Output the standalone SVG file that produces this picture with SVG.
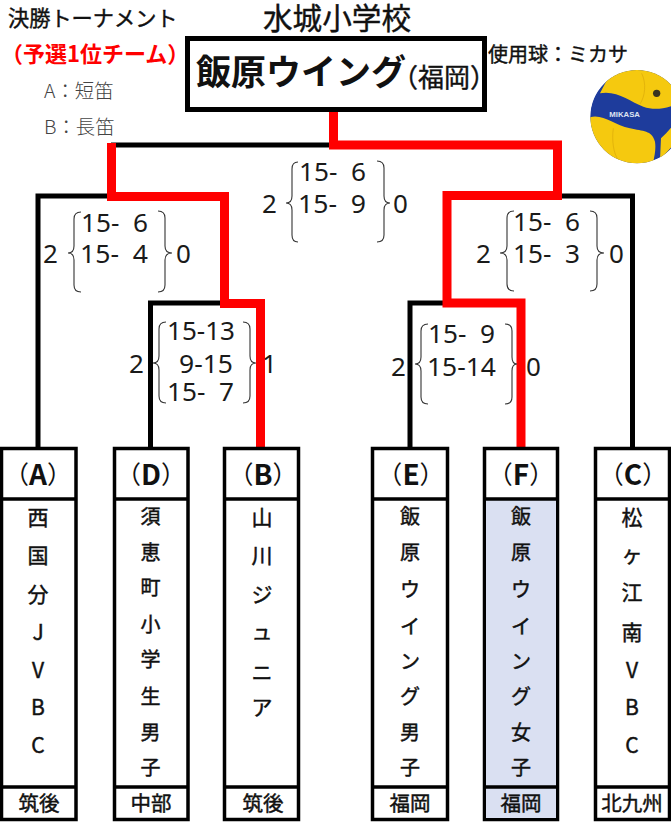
<svg xmlns="http://www.w3.org/2000/svg" width="671" height="822" viewBox="0 0 671 822">
<style>
text{font-family:"Noto Sans CJK JP","Noto Sans",sans-serif;fill:#111}
.j{font-size:21px;text-anchor:middle;dominant-baseline:central;stroke:#111;stroke-width:.45;transform:translateY(-2px)}
.n{font-size:20px}
.b{font-weight:700;font-size:28px}
.m{stroke:#111;stroke-width:.4}
.s{font-family:"Noto Sans","Open Sans",sans-serif;font-size:26px;fill:#1a1a1a;white-space:pre}
.box{fill:#fff;stroke:#000;stroke-width:3.5}
.sep{fill:none;stroke:#000;stroke-width:3.5}
.blue{fill:#DAE0F2}
.k{fill:none;stroke:#000;stroke-width:5}
.r{fill:none;stroke:#f00;stroke-width:9}
.br{fill:none;stroke:#333;stroke-width:1.1}
.h{font-size:25px;text-anchor:middle;dominant-baseline:central}
.f{font-size:20.5px;text-anchor:middle;dominant-baseline:central;stroke:#111;stroke-width:.45;transform:translateY(-1.5px)}
</style>
<rect width="671" height="822" fill="#fff"/>
<g id="connectors">
<path class="k" d="M111 145H334M111 196H38V448M224 303H150.5V448M447 303H410V448M557 196H632.5V448"/>
<path class="r" d="M333.5 108V145H557.5V195.5H447V303H521V448"/>
<path class="r" d="M111.5 143V196.5H224.5V303.5H260.5V448"/>
</g>
<g id="title">
<text class="m" x="337" y="29" font-size="29.6" text-anchor="middle">水城小学校</text>
<text class="m" x="8" y="26" font-size="21.2">決勝トーナメント</text>
<text x="1" y="62" font-size="22" font-weight="700" style="fill:#f00">（予選1位チーム）</text>
<text x="44" y="98" font-size="19.4" font-weight="300" style="fill:#444">A：短笛</text>
<text x="44" y="134" font-size="19.4" font-weight="300" style="fill:#444">B：長笛</text>
<text class="m" x="488" y="62" font-size="20">使用球：ミカサ</text>
</g>
<g id="winner">
<rect x="187.5" y="38.5" width="297" height="71" fill="#fff" stroke="#000" stroke-width="5"/>
<text x="196" y="85" font-size="35" font-weight="700">飯原ウイング</text>
<text class="m" x="392" y="87" font-size="26">（福岡）</text>
</g>
<g id="ball" transform="translate(580 60) scale(.3333)">
<clipPath id="bc"><circle cx="171" cy="170" r="140"/></clipPath>
<g clip-path="url(#bc)">
<circle cx="171" cy="170" r="141" fill="#1E3C9C"/>
<path fill="#F5C90F" d="M85 52L170 10L300 60L300 128C250 150 220 150 190 140C150 125 110 90 60 100Z"/>
<path fill="#F5C90F" d="M28 172C70 160 100 195 150 205C190 215 215 210 225 245C228 265 225 285 216 320L100 330L10 220Z"/>
<path fill="#F5C90F" d="M243 235C265 215 285 190 300 165L320 210L240 300Z"/>
<path fill="none" stroke="#D9A90A" stroke-width="2" d="M100 205C95 240 100 280 115 300M185 40C200 70 195 110 180 132"/>
<circle cx="230" cy="100" r="11" fill="#3a3320"/>
</g>
<text x="88" y="170" font-size="21" font-weight="700" textLength="92" lengthAdjust="spacingAndGlyphs" style="fill:#dfe4f2;font-family:'Liberation Sans',sans-serif">MIKASA</text>
</g>
<g id="scores">
<g id="score-final">
<path class="br" d="M298 162Q292 162 292 169V196Q292 203 286 203Q292 203 292 210V235Q292 242 298 242"/>
<path class="br" d="M377 161Q384 161 384 168V196Q384 203 390 203Q384 203 384 210V235Q384 242 377 242"/>
<text class="s" x="262" y="213">2</text><text class="s" x="299" y="181" textLength="67" lengthAdjust="spacingAndGlyphs">15-  6</text><text class="s" x="298" y="213" textLength="68" lengthAdjust="spacingAndGlyphs">15-  9</text><text class="s" x="393" y="213">0</text>
</g>
<g id="score-left">
<path class="br" d="M81 212Q74 212 74 219V246Q74 253 68 253Q74 253 74 260V285Q74 292 81 292"/>
<path class="br" d="M158 211Q165 211 165 218V246Q165 253 172 253Q165 253 165 260V285Q165 292 158 292"/>
<text class="s" x="43" y="263">2</text><text class="s" x="81" y="232" textLength="67" lengthAdjust="spacingAndGlyphs">15-  6</text><text class="s" x="80" y="263" textLength="68" lengthAdjust="spacingAndGlyphs">15-  4</text><text class="s" x="176" y="263">0</text>
</g>
<g id="score-right">
<path class="br" d="M514 211Q507 211 507 218V246Q507 253 500 253Q507 253 507 260V284Q507 291 514 291"/>
<path class="br" d="M590 211Q597 211 597 218V246Q597 253 604 253Q597 253 597 260V284Q597 291 590 291"/>
<text class="s" x="476" y="263">2</text><text class="s" x="513" y="231" textLength="67" lengthAdjust="spacingAndGlyphs">15-  6</text><text class="s" x="513" y="263" textLength="67" lengthAdjust="spacingAndGlyphs">15-  3</text><text class="s" x="609" y="263">0</text>
</g>
<g id="score-sf1">
<path class="br" d="M166 322Q159 322 159 329V356Q159 363 153 363Q159 363 159 370V396Q159 403 166 403"/>
<path class="br" d="M243 322Q250 322 250 329V356Q250 363 256 363Q250 363 250 370V396Q250 403 243 403"/>
<text class="s" x="129" y="373">2</text><text class="s" x="167" y="340" textLength="68" lengthAdjust="spacingAndGlyphs">15-13</text><text class="s" x="179" y="373" textLength="54" lengthAdjust="spacingAndGlyphs">9-15</text><text class="s" x="167" y="401" textLength="67" lengthAdjust="spacingAndGlyphs">15-  7</text><text class="s" x="262" y="373">1</text>
</g>
<g id="score-sf2">
<path class="br" d="M428 324Q421 324 421 331V357Q421 364 415 364Q421 364 421 371V397Q421 404 428 404"/>
<path class="br" d="M505 324Q512 324 512 331V357Q512 364 517 364Q512 364 512 371V397Q512 404 505 404"/>
<text class="s" x="391" y="376">2</text><text class="s" x="428" y="343" textLength="67" lengthAdjust="spacingAndGlyphs">15-  9</text><text class="s" x="427" y="376" textLength="69" lengthAdjust="spacingAndGlyphs">15-14</text><text class="s" x="526" y="376">0</text>
</g>
</g>
<g id="node-A">
<rect class="box" x="1.5" y="448.5" width="74.5" height="371"/><path class="sep" d="M1 499H76M1 787H76"/>
<text class="h" x="38" y="473">（<tspan class="b">A</tspan>）</text>
<text class="j" x="38" y="518">西</text><text class="j" x="38" y="556">国</text><text class="j" x="38" y="595">分</text><text class="j" x="38" y="633">J</text><text class="j" x="38" y="671">V</text><text class="j" x="38" y="708">B</text><text class="j" x="38" y="746">C</text>
<text class="f" x="39" y="803">筑後</text>
</g>
<g id="node-D">
<rect class="box" x="114.5" y="448.5" width="73.5" height="371"/><path class="sep" d="M114 499H188M114 787H188"/>
<text class="h" x="151" y="473">（<tspan class="b">D</tspan>）</text>
<text class="j n" x="150.5" y="517">須</text><text class="j n" x="150.5" y="553">恵</text><text class="j n" x="150.5" y="588">町</text><text class="j n" x="150.5" y="625">小</text><text class="j n" x="150.5" y="660">学</text><text class="j n" x="150.5" y="697">生</text><text class="j n" x="150.5" y="733">男</text><text class="j n" x="150.5" y="768">子</text>
<text class="f" x="151" y="803">中部</text>
</g>
<g id="node-B">
<rect class="box" x="224.5" y="448.5" width="74" height="371"/><path class="sep" d="M224 499H299M224 787H299"/>
<text class="h" x="263" y="473">（<tspan class="b">B</tspan>）</text>
<text class="j" x="262" y="518">山</text><text class="j" x="262" y="556">川</text><text class="j" x="262" y="595">ジ</text><text class="j" x="262" y="632">ュ</text><text class="j" x="262" y="673">ニ</text><text class="j" x="262" y="708">ア</text>
<text class="f" x="263" y="803">筑後</text>
</g>
<g id="node-E">
<rect class="box" x="372.5" y="448.5" width="75" height="371"/><path class="sep" d="M372 499H448M372 787H448"/>
<text class="h" x="411" y="473">（<tspan class="b">E</tspan>）</text>
<text class="j n" x="410" y="517">飯</text><text class="j n" x="410" y="553">原</text><text class="j n" x="410" y="590">ウ</text><text class="j n" x="410" y="627">イ</text><text class="j n" x="410" y="662">ン</text><text class="j n" x="410" y="697">グ</text><text class="j n" x="410" y="733">男</text><text class="j n" x="410" y="768">子</text>
<text class="f" x="410" y="803">福岡</text>
</g>
<g id="node-F">
<rect class="box" x="484.5" y="448.5" width="73" height="371"/><rect class="blue" x="486" y="499" width="70" height="319"/><path class="sep" d="M484 499H558M484 787H558"/>
<text class="h" x="521" y="473">（<tspan class="b">F</tspan>）</text>
<text class="j n" x="521" y="517">飯</text><text class="j n" x="521" y="553">原</text><text class="j n" x="521" y="590">ウ</text><text class="j n" x="521" y="627">イ</text><text class="j n" x="521" y="662">ン</text><text class="j n" x="521" y="697">グ</text><text class="j n" x="521" y="733">女</text><text class="j n" x="521" y="768">子</text>
<text class="f" x="521" y="803">福岡</text>
</g>
<g id="node-C">
<rect class="box" x="595.5" y="448.5" width="74" height="371"/><path class="sep" d="M595 499H670M595 787H670"/>
<text class="h" x="633" y="473">（<tspan class="b">C</tspan>）</text>
<text class="j" x="632" y="518">松</text><text class="j" x="632" y="555">ヶ</text><text class="j" x="632" y="593">江</text><text class="j" x="632" y="633">南</text><text class="j" x="632" y="671">V</text><text class="j" x="632" y="708">B</text><text class="j" x="632" y="746">C</text>
<text class="f" x="632" y="803">北九州</text>
</g>
</svg>
